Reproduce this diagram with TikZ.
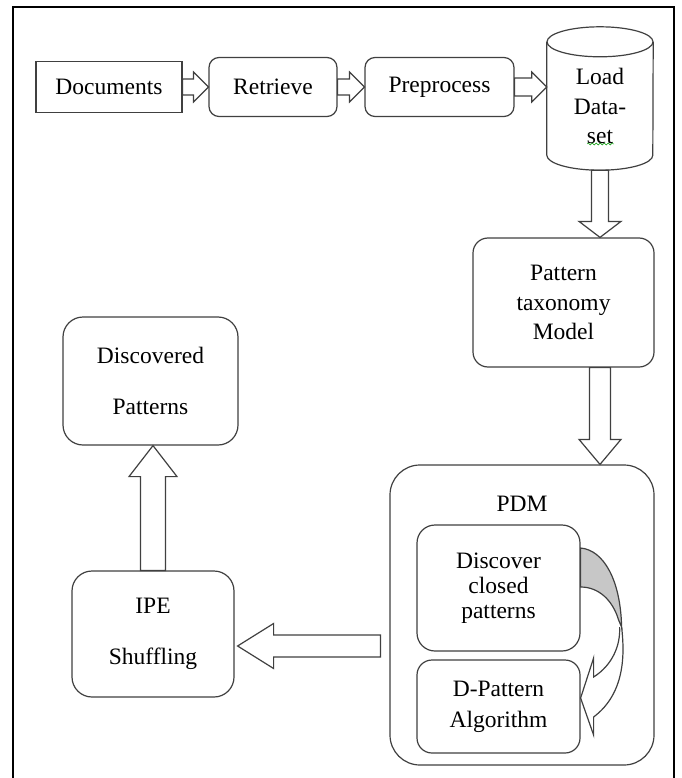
\documentclass[tikz,border=0pt]{standalone}
\usepackage{fontspec}
\setmainfont{Liberation Serif}
\usetikzlibrary{positioning,calc,decorations.pathmorphing}

\tikzset{
  txt/.style={font=\fontsize{23.5}{29.5}\selectfont, align=center},
  box/.style={txt, draw=black!75, line width=1.2pt, fill=white, inner sep=0pt},
  rbox/.style={box, rounded corners=#1},
  rbox/.default=12pt,
  hollow/.style={draw=black!75, line width=1.2pt, fill=white, line join=miter},
  cyl/.style={draw=black!75, line width=1.2pt},
}

% block arrow: start, end, shaft half width, head half width, head length
\newcommand{\blockarr}[5]{%
  \draw[hollow] ($(#1)!#3!90:(#2)$) -- ($(#2)!#5!(#1)!#3!90:(#2)$)
    -- ($(#2)!#5!(#1)!#4!90:(#2)$) -- (#2)
    -- ($(#2)!#5!(#1)!#4!-90:(#2)$) -- ($(#2)!#5!(#1)!#3!-90:(#2)$)
    -- ($(#1)!#3!-90:(#2)$) -- cycle;}

\begin{document}
\begin{tikzpicture}[x=1pt, y=-1pt]
\useasboundingbox (0,0) rectangle (681,778);
\draw[line width=2pt] (13,778) -- (13,7) -- (674,7) -- (674,778);

% top row
\node (docs) [box, minimum width=146pt, minimum height=51pt] at (109,87) {Documents};
\node (retr) [rbox=10pt, minimum width=128pt, minimum height=59pt] at (273,87) {Retrieve};
\node (prep) [rbox=10pt, minimum width=149pt, minimum height=59pt] at (439.5,87) {Preprocess};
\node (load) [txt, inner sep=0pt, minimum width=106pt, minimum height=128pt] at (600,106) {Load\\Data-\\set};
\draw[cyl] (load.north west) -- ($(load.south west)+(0,-15)$)
  arc[start angle=180, end angle=360, x radius=53pt, y radius=15pt] -- (load.north east);
\draw[cyl] (load.north) ellipse[x radius=53pt, y radius=15pt];
\draw[green!60!black, decorate, decoration={snake, amplitude=1pt, segment length=4pt}]
  ($(load.center)+(-13,38)$) -- ++(27,0);

\node (ptm) [rbox=15pt, minimum width=181pt, minimum height=129pt] at (563.5,302.5) {Pattern\\taxonomy\\Model};

% PDM block
\node (pdm) [rbox=30pt, minimum width=264pt, minimum height=300pt] at (522,615) {};
\node (pdmtitle) [txt, inner sep=0pt, below=32pt of pdm.north] {PDM};
\node (dcp) [rbox=18pt, minimum width=163pt, minimum height=126pt, font=\fontsize{23.5}{25}\selectfont] at (498.5,588) {Discover\\closed\\patterns};
\node (dpa) [rbox=15pt, minimum width=163pt, minimum height=93pt, font=\fontsize{23.5}{31}\selectfont] at (498.5,706.5) {D-Pattern\\Algorithm};

% left column
\node (ipe) [rbox=20pt, minimum width=162pt, minimum height=126pt] at (153,634) {IPE\\[22pt]Shuffling};
\node (disc) [rbox=20pt, minimum width=175pt, minimum height=128pt] at (150.5,381) {Discovered\\[22pt]Patterns};

% arrows
\blockarr{docs.east}{retr.west}{8pt}{15pt}{15pt}
\blockarr{retr.east}{prep.west}{8pt}{15pt}{15pt}
\coordinate (loadin) at (load.west |- prep.east);
\blockarr{prep.east}{loadin}{9pt}{15pt}{15pt}
\coordinate (ptmin) at (ptm.north -| load.south);
\blockarr{load.south}{ptmin}{8.5pt}{21pt}{16pt}
\coordinate (ptmout) at (ptm.south -| load.south);
\coordinate (pdmin) at (pdm.north -| load.south);
\blockarr{ptmout}{pdmin}{10.5pt}{21pt}{25pt}
\coordinate (pdmout) at ($(pdm.west)+(-9,31)$);
\coordinate (ipein) at ($(ipe.east)+(3,12)$);
\blockarr{pdmout}{ipein}{11pt}{22.5pt}{36pt}
\coordinate (discin) at (disc.south -| ipe.north);
\blockarr{ipe.north}{discin}{12.5pt}{24pt}{31pt}

% curved arrow dcp -> dpa
\begin{scope}[shift={(dcp.east)}]
\draw[hollow, fill=black!22] (0,-40) .. controls (23,-38) and (40,-8) .. (41,39)
  -- (38,32) .. controls (32,12) and (18,-1) .. (0,-1) -- cycle;
\draw[hollow] (41,39) .. controls (44,65) and (45,105) .. (13,129) -- (13,147)
  -- (0,110) -- (13,70) -- (13,89) .. controls (32,77) and (40,57) .. (39,39);
\end{scope}
\end{tikzpicture}
\end{document}
